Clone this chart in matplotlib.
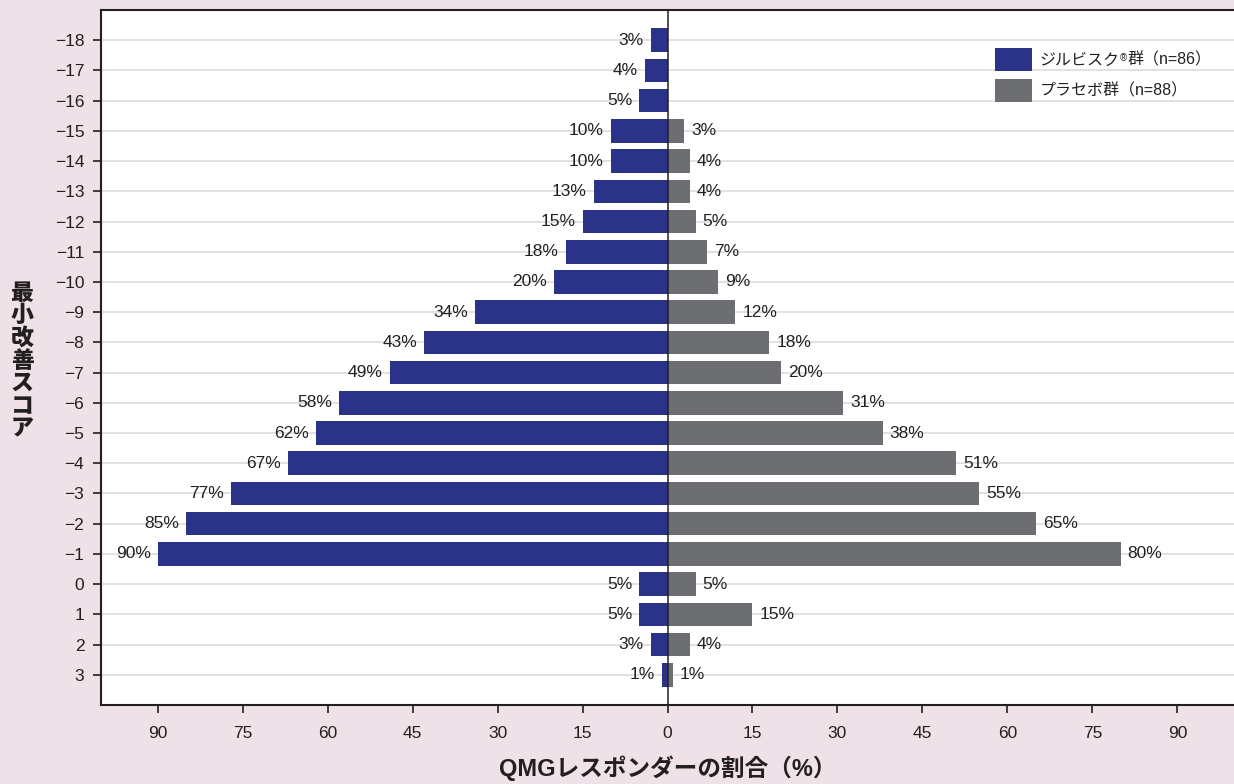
import matplotlib
matplotlib.use("Agg")
import matplotlib.pyplot as plt
from matplotlib.patches import Rectangle

# Minimum improvement score (rows) and share of QMG responders (%)
scores = [-18, -17, -16, -15, -14, -13, -12, -11, -10, -9, -8, -7, -6, -5,
          -4, -3, -2, -1, 0, 1, 2, 3]
zilbysq = [3, 4, 5, 10, 10, 13, 15, 18, 20, 34, 43, 49, 58, 62,
           67, 77, 85, 90, 5, 5, 3, 1]
placebo = [0, 0, 0, 3, 4, 4, 5, 7, 9, 12, 18, 20, 31, 38,
           51, 55, 65, 80, 5, 15, 4, 1]
xticks = [-90, -75, -60, -45, -30, -15, 0, 15, 30, 45, 60, 75, 90]

series_names = ["ジルビスク®群（n=86）", "プラセボ群（n=88）"]
x_title = "QMGレスポンダーの割合（%）"
y_title = "最小改善スコア"

NAVY = "#2b3388"
GRAY = "#6d6e71"
INK = "#231f20"
BG = "#efe1e8"
NUM_FONT = ["Liberation Sans", "DejaVu Sans"]
MIX_FONT = ["Liberation Sans", "Noto Sans CJK JP", "DejaVu Sans"]
JP_FONT = ["Noto Sans CJK JP", "DejaVu Sans"]

W, H = 1234, 784
fig = plt.figure(figsize=(W / 100, H / 100), dpi=100)
fig.patch.set_facecolor(BG)
ax = fig.add_axes([101 / W, 1 - 705 / H, 1 - 101 / W, (705 - 10) / H])
ax.set_facecolor("white")

bar_h = 0.78
ax.barh(scores, [-v for v in zilbysq], height=bar_h, color=NAVY, zorder=2)
ax.barh(scores, placebo, height=bar_h, color=GRAY, zorder=2)

# value labels at bar ends
for s, a, b in zip(scores, zilbysq, placebo):
    ax.annotate(f"{a}%", (-a, s), xytext=(-5, 0), textcoords="offset points",
                ha="right", va="center", fontsize=12.5, color=INK,
                family=NUM_FONT, zorder=3)
    if b > 0:
        ax.annotate(f"{b}%", (b, s), xytext=(5, 0), textcoords="offset points",
                    ha="left", va="center", fontsize=12.5, color=INK,
                    family=NUM_FONT, zorder=3)

ax.axvline(0, color=INK, lw=1.1, zorder=3)

ax.set_xlim(-100, 100)
ax.set_ylim(4, -19)
ax.set_yticks(scores)
ax.set_yticklabels([str(s).replace("-", "\u2212") for s in scores],
                   family=NUM_FONT, fontsize=12.5, color=INK)
ax.set_xticks(xticks)
ax.set_xticklabels([str(abs(t)) for t in xticks], family=NUM_FONT,
                   fontsize=12.5, color=INK)
ax.tick_params(axis="both", direction="out", length=6, width=1.2,
               color=INK, pad=6)
ax.tick_params(axis="x", pad=9)

ax.grid(axis="y", color="#dedede", lw=1.3, zorder=0)
ax.set_axisbelow(True)

for side in ("left", "top", "bottom"):
    ax.spines[side].set_color(INK)
    ax.spines[side].set_linewidth(1.5)
ax.spines["right"].set_visible(False)

fig.text(668 / W, 1 - 768 / H, x_title, ha="center", va="center",
         fontsize=17, fontweight="bold", color=INK, family=MIX_FONT)
fig.text(22 / W, 1 - 361 / H, "\n".join(y_title), ha="center",
         va="center", fontsize=16.5, fontweight="heavy", color=INK,
         family=JP_FONT, linespacing=0.98)

# legend: colour swatch and label per series, in figure pixels;
# a registered mark is set small and raised
for i, (name, col) in enumerate(zip(series_names, [NAVY, GRAY])):
    top = 48 + 31 * i
    fig.patches.append(Rectangle((995 / W, 1 - (top + 23) / H), 37 / W, 23 / H,
                                 transform=fig.transFigure, facecolor=col,
                                 edgecolor="none", zorder=5))
    style = dict(color=INK, family=MIX_FONT, zorder=5)
    if "®" in name:
        head, tail = name.split("®", 1)
        t1 = fig.text(1040 / W, 1 - (top + 12) / H, head, ha="left",
                      va="center", fontsize=11.5, **style)
        t2 = ax.annotate("®", xy=(1.0, 0.93), xycoords=t1, ha="left",
                         va="top", fontsize=7, annotation_clip=False, **style)
        ax.annotate(tail, xy=(1.0, 0.5), xycoords=(t2, t1), ha="left",
                    va="center", fontsize=11.5, annotation_clip=False, **style)
    else:
        fig.text(1040 / W, 1 - (top + 12) / H, name, ha="left", va="center",
                 fontsize=11.5, **style)

fig.savefig("out.png", dpi=100, facecolor=BG)
